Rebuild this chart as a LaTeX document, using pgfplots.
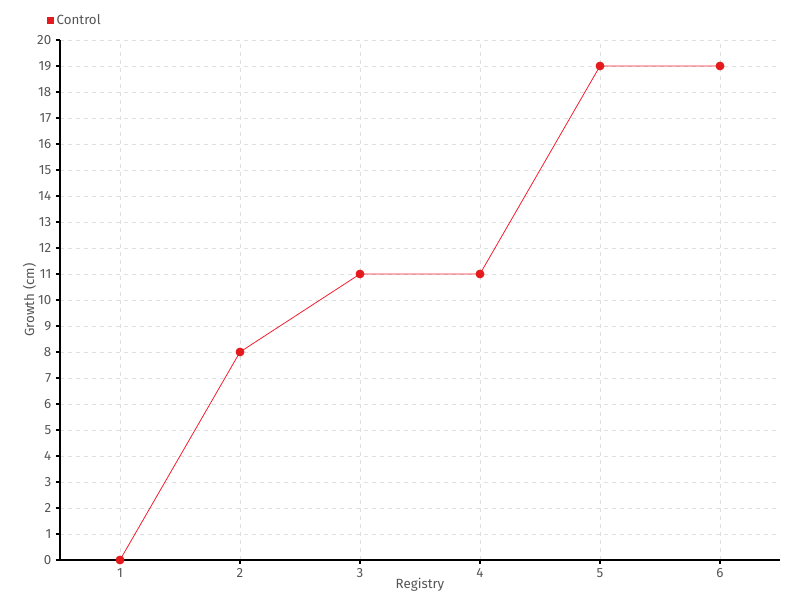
\documentclass[border=0pt]{standalone}
\usepackage{pgfplots}
\pgfplotsset{compat=1.18}
\usepackage{fontspec}
\setmainfont{Fira Sans}
\definecolor{ctrl}{HTML}{E41A1C}
\definecolor{ctrlline}{HTML}{F0202E}
\definecolor{txt}{HTML}{555555}
\begin{document}
\begin{tikzpicture}
\path[use as bounding box] (0,0) rectangle (600pt,450pt);
\begin{axis}[
  at={(45pt,30pt)}, anchor=south west,
  scale only axis, width=540pt, height=390pt,
  xmin=0.5, xmax=6.5, ymin=0, ymax=20,
  xtick={1,...,6}, ytick={0,1,...,20},
  axis x line*=bottom, axis y line*=left,
  axis line style={black, line width=0.8pt, -},
  tick align=outside, major tick length=3pt,
  tick style={black, line width=0.8pt},
  grid=major,
  major grid style={gray!25, dash pattern=on 3pt off 3pt, line width=0.6pt},
  tick label style={font=\normalsize, text=txt},
  /pgf/number format/assume math mode=true,
  xlabel={Registry}, ylabel={Growth (cm)},
  label style={font=\normalsize, text=txt},
  xlabel style={yshift=7pt},
  ylabel style={yshift=-6pt},
  legend style={draw=none, fill=none, at={(-0.018,1.037)}, anchor=west, font=\normalsize, text=txt, inner sep=0pt},
  legend image code/.code={\fill[ctrl] (0pt,-2.2pt) rectangle (4.4pt,2.2pt);},
  legend cell align=left,
]
\addplot[color=ctrlline, line width=0.6pt, mark=*, mark size=3pt, mark options={fill=ctrl, draw=ctrl}]
  coordinates {(1,0) (2,8) (3,11) (4,11) (5,19) (6,19)};
\addlegendentry{Control}
\end{axis}
\end{tikzpicture}
\end{document}
